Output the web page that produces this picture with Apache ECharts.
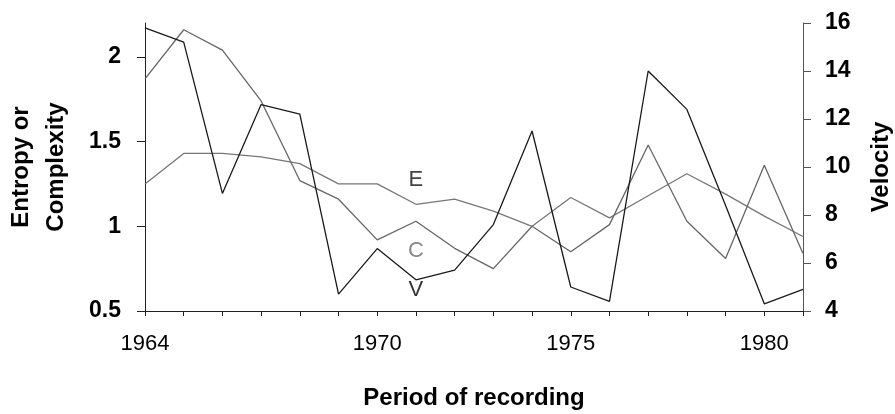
<!DOCTYPE html>
<html>
<head>
<meta charset="utf-8">
<script src="https://cdn.jsdelivr.net/npm/echarts@6/dist/echarts.min.js"></script>
<style>
html,body{margin:0;padding:0;background:#fff;}
#chart{width:895px;height:414px;}
</style>
</head>
<body>
<div id="chart"></div>
<script>
// Data
var years = ['1964','1965','1966','1967','1968','1969','1970','1971','1972','1973','1974','1975','1976','1977','1978','1979','1980','1981'];
var labelYears = ['1964','1970','1975','1980'];
var entropy    = [1.25, 1.43, 1.43, 1.41, 1.37, 1.25, 1.25, 1.13, 1.16, 1.09, 1.00, 1.17, 1.05, 1.18, 1.31, 1.19, 1.06, 0.94];
var complexity = [1.87, 2.16, 2.04, 1.74, 1.27, 1.16, 0.92, 1.03, 0.87, 0.75, 1.00, 0.85, 1.01, 1.48, 1.03, 0.81, 1.36, 0.84];
var velocity   = [15.8, 15.2, 8.9, 12.6, 12.2, 4.7, 6.6, 5.3, 5.7, 7.6, 11.5, 5.0, 4.4, 14.0, 12.4, 8.4, 4.3, 4.9];
var labelYear = '1971';

var FONT = '"Liberation Sans", Arial, sans-serif';
var chart = echarts.init(document.getElementById('chart'), null, {renderer: 'canvas'});

function tagPoint(text, value, offsetY, color) {
  return {
    symbol: 'rect', symbolSize: 1,
    itemStyle: {color: 'rgba(0,0,0,0)'},
    label: {show: true, formatter: text, offset: [0, offsetY], color: color,
            fontFamily: FONT, fontSize: 22},
    data: [{coord: [labelYear, value]}]
  };
}

var option = {
  animation: false,
  backgroundColor: '#ffffff',
  grid: {left: 145, right: 92, top: 23, bottom: 103, containLabel: false, outerBoundsMode: 'none'},
  xAxis: {
    type: 'category',
    data: years,
    boundaryGap: false,
    name: 'Period of recording',
    nameLocation: 'middle',
    nameGap: 75,
    nameTextStyle: {fontFamily: FONT, fontSize: 24, fontWeight: 'bold', color: '#000'},
    axisLine: {lineStyle: {color: '#222', width: 1}},
    axisTick: {show: true, interval: 0, length: 5, lineStyle: {color: '#222'}},
    axisLabel: {
      interval: function (idx, val) { return labelYears.indexOf(val) >= 0; },
      fontFamily: FONT, fontSize: 22, color: '#000', margin: 22
    },
    splitLine: {show: false}
  },
  yAxis: [
    {
      type: 'value', min: 0.5, max: 2.2, interval: 0.5, position: 'left',
      name: 'Entropy or\nComplexity',
      nameLocation: 'middle', nameRotate: 90, nameGap: 71,
      nameTextStyle: {fontFamily: FONT, fontSize: 24, fontWeight: 'bold', color: '#000', lineHeight: 35},
      axisLine: {show: true, lineStyle: {color: '#222', width: 1}},
      axisTick: {show: true, length: 8, lineStyle: {color: '#222'}},
      axisLabel: {fontFamily: FONT, fontSize: 23, fontWeight: 'bold', color: '#000', margin: 24, showMaxLabel: false},
      splitLine: {show: false}
    },
    {
      type: 'value', min: 4, max: 16, interval: 2, position: 'right',
      name: 'Velocity',
      nameLocation: 'middle', nameRotate: 90, nameGap: 66,
      nameTextStyle: {fontFamily: FONT, fontSize: 24, fontWeight: 'bold', color: '#000'},
      axisLine: {show: true, lineStyle: {color: '#555', width: 1}},
      axisTick: {show: true, length: 8, lineStyle: {color: '#555'}},
      axisLabel: {fontFamily: FONT, fontSize: 23, fontWeight: 'bold', color: '#000', margin: 22},
      splitLine: {show: false}
    }
  ],
  series: [
    {
      name: 'E', type: 'line', yAxisIndex: 0, data: entropy,
      showSymbol: false, symbol: 'none',
      lineStyle: {color: '#777', width: 1.3},
      markPoint: tagPoint('E', entropy[years.indexOf(labelYear)], -24, '#444')
    },
    {
      name: 'C', type: 'line', yAxisIndex: 0, data: complexity,
      showSymbol: false, symbol: 'none',
      lineStyle: {color: '#666', width: 1.3},
      markPoint: tagPoint('C', complexity[years.indexOf(labelYear)], 30, '#888')
    },
    {
      name: 'V', type: 'line', yAxisIndex: 1, data: velocity,
      showSymbol: false, symbol: 'none',
      lineStyle: {color: '#1a1a1a', width: 1.3},
      markPoint: tagPoint('V', velocity[years.indexOf(labelYear)], 10, '#333')
    }
  ]
};
chart.setOption(option);
</script>
</body>
</html>
